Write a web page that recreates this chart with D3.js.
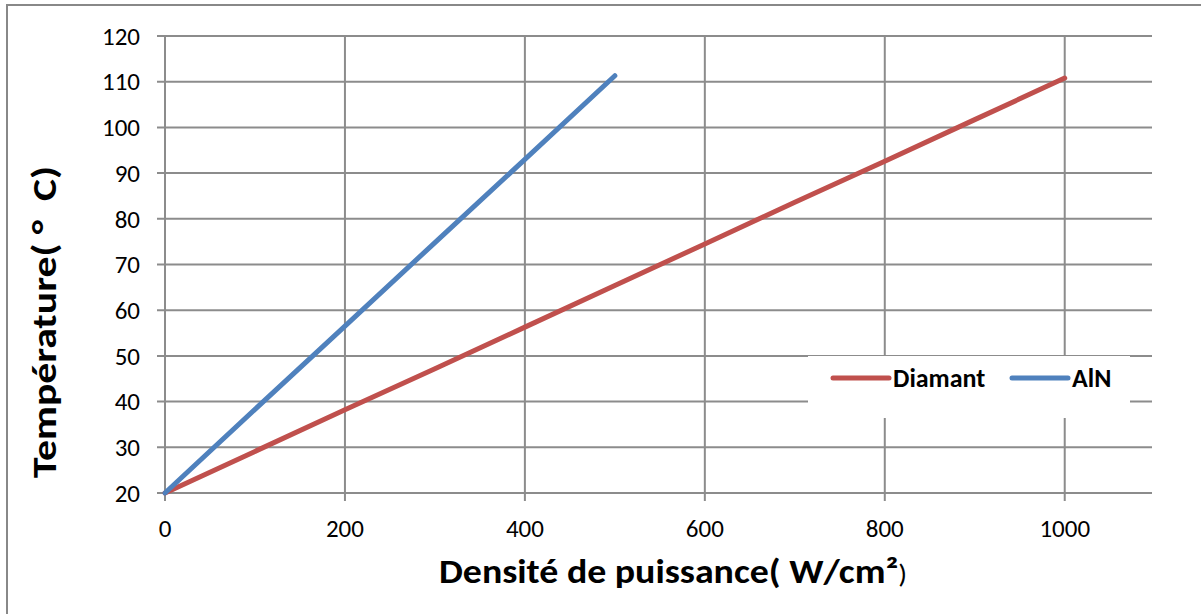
<!DOCTYPE html>
<html lang="fr">
<head>
  <meta charset="UTF-8">
  <title>Température vs densité de puissance</title>
  <script src="https://cdn.jsdelivr.net/npm/d3@7/dist/d3.min.js"></script>
  <style>
    body { margin: 0; background: #fff; }
    svg { display: block; font-family: Calibri, Carlito, "Open Sans", sans-serif; }
  </style>
</head>
<body>
  <svg></svg>
  <script>
    const width = 1201, height = 614;

    // données
    const densite = [0, 100, 200, 300, 400, 500, 600, 700, 800, 900, 1000];
    const diamant = [20, 29.1, 38.2, 47.2, 56.3, 65.4, 74.5, 83.6, 92.6, 101.7, 110.8];
    const densiteAlN = [0, 100, 200, 300, 400, 500];
    const aln = [20, 38.3, 56.5, 74.8, 93.0, 111.3];
    const xTicks = [0, 200, 400, 600, 800, 1000];
    const yTicks = [20, 30, 40, 50, 60, 70, 80, 90, 100, 110, 120];

    const series = [
      { name: "Diamant", color: "#C0504D", x: densite, y: diamant },
      { name: "AlN", color: "#4F81BD", x: densiteAlN, y: aln }
    ];

    const svg = d3.select("svg").attr("width", width).attr("height", height);

    // cadre extérieur (seulement haut et gauche visibles)
    svg.append("path")
      .attr("d", "M7,614 L7,5 L1201,5")
      .attr("fill", "none").attr("stroke", "#888").attr("stroke-width", 2);

    const x = d3.scaleLinear().domain([0, 1097]).range([165, 1152]);
    const y = d3.scaleLinear().domain([20, 120]).range([493, 36]);

    const grid = "#8c8c8c";

    // grille horizontale
    svg.append("g").selectAll("line").data(yTicks).join("line")
      .attr("x1", 157).attr("x2", 1152)
      .attr("y1", d => y(d)).attr("y2", d => y(d))
      .attr("stroke", grid).attr("stroke-width", 2);

    // grille verticale
    svg.append("g").selectAll("line").data(xTicks).join("line")
      .attr("x1", d => x(d)).attr("x2", d => x(d))
      .attr("y1", y(120)).attr("y2", 501)
      .attr("stroke", grid).attr("stroke-width", 2);

    // étiquettes des axes
    svg.append("g").selectAll("text").data(yTicks).join("text")
      .attr("x", 140).attr("y", d => y(d))
      .attr("dy", "0.35em").attr("text-anchor", "end")
      .attr("font-size", 25).attr("fill", "#000")
      .text(d => d);

    svg.append("g").selectAll("text").data(xTicks).join("text")
      .attr("x", d => x(d)).attr("y", 528)
      .attr("dy", "0.35em").attr("text-anchor", "middle")
      .attr("font-size", 25).attr("fill", "#000")
      .text(d => d);

    // courbes
    const line = d3.line().x(d => x(d[0])).y(d => y(d[1]));
    series.forEach(s => {
      svg.append("path")
        .datum(d3.zip(s.x, s.y))
        .attr("d", line)
        .attr("fill", "none")
        .attr("stroke", s.color)
        .attr("stroke-width", 5)
        .attr("stroke-linecap", "round")
        .attr("stroke-linejoin", "round");
    });

    // légende
    const leg = svg.append("g");
    leg.append("rect")
      .attr("x", 808).attr("y", 356).attr("width", 322).attr("height", 62)
      .attr("fill", "#fff");
    const legPos = [833, 1012];
    series.forEach((s, i) => {
      const lx = legPos[i];
      leg.append("line")
        .attr("x1", lx).attr("x2", lx + 56)
        .attr("y1", 378).attr("y2", 378)
        .attr("stroke", s.color).attr("stroke-width", 5)
        .attr("stroke-linecap", "round");
      leg.append("text")
        .attr("x", lx + 60).attr("y", 378).attr("dy", "0.35em")
        .attr("font-size", 26).attr("font-weight", "bold")
        .text(s.name);
    });

    // titres des axes
    svg.append("text")
      .attr("x", 673).attr("y", 583).attr("text-anchor", "middle")
      .attr("font-size", 34).attr("font-weight", "bold")
      .attr("textLength", 468).attr("lengthAdjust", "spacingAndGlyphs")
      .html('Densité de puissance( W/cm²<tspan font-weight="normal" font-size="26">)</tspan>');

    svg.append("text")
      .attr("transform", "translate(56,322) rotate(-90)")
      .attr("text-anchor", "middle")
      .attr("font-size", 34).attr("font-weight", "bold")
      .attr("xml:space", "preserve")
      .attr("textLength", 312).attr("lengthAdjust", "spacingAndGlyphs")
      .text("Température( °  C)");
  </script>
</body>
</html>
